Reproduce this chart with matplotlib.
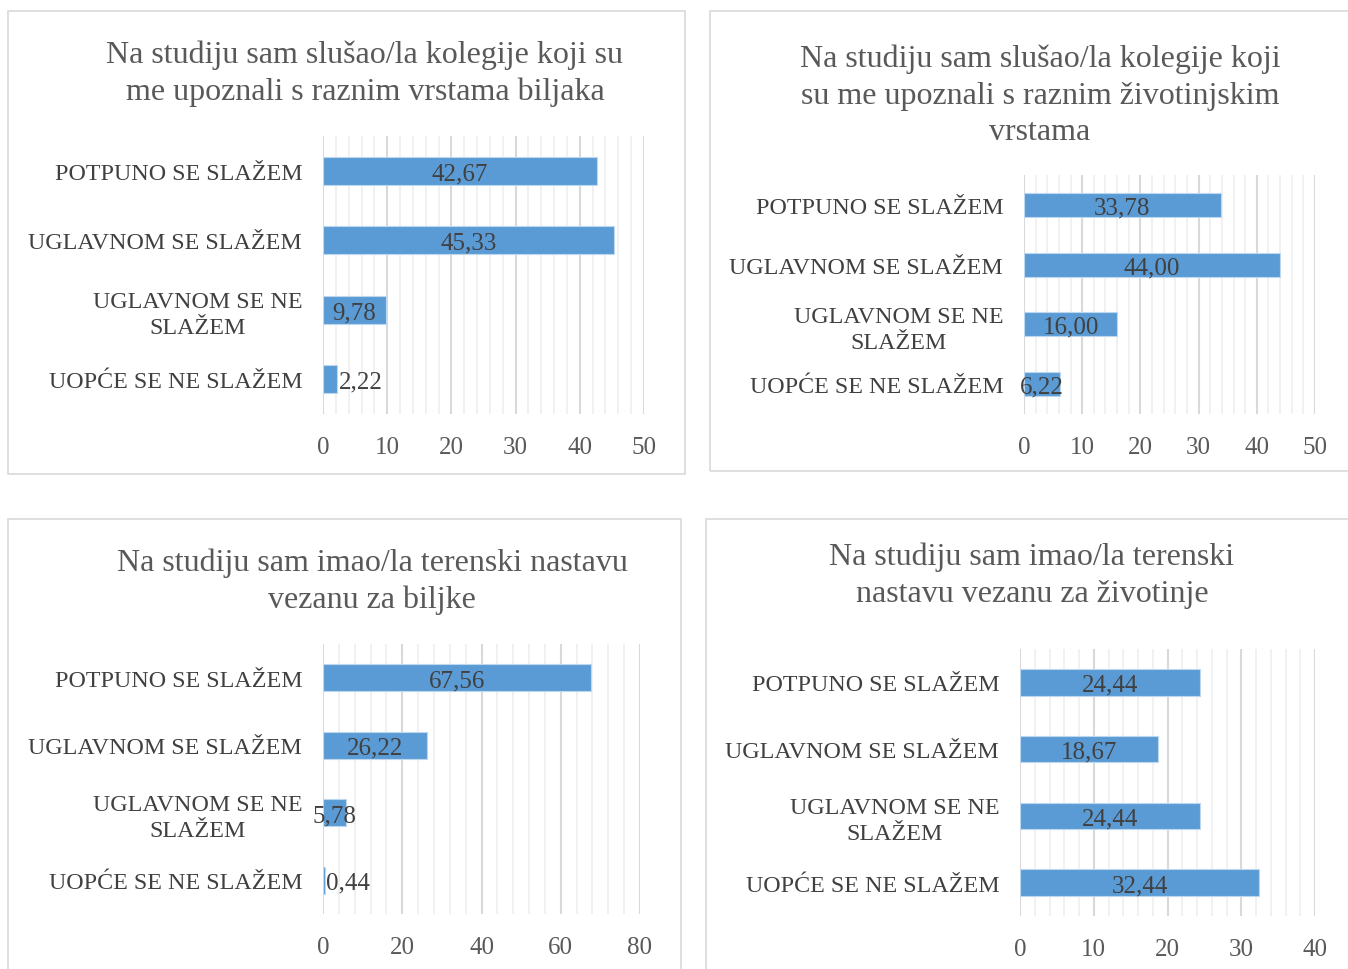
import matplotlib.pyplot as plt
from matplotlib.patches import Rectangle
from matplotlib.ticker import MultipleLocator

kategorije = ["POTPUNO SE SLAŽEM", "UGLAVNOM SE SLAŽEM",
              "UGLAVNOM SE NE\nSLAŽEM", "UOPĆE SE NE SLAŽEM"]

naslov_1 = "Na studiju sam slušao/la kolegije koji su\nme upoznali s raznim vrstama biljaka"
naslov_2 = "Na studiju sam slušao/la kolegije koji\nsu me upoznali s raznim životinjskim\nvrstama"
naslov_3 = "Na studiju sam imao/la terenski nastavu\nvezanu za biljke"
naslov_4 = "Na studiju sam imao/la terenski\nnastavu vezanu za životinje"

vrijednosti_1 = [42.67, 45.33, 9.78, 2.22]
vrijednosti_2 = [33.78, 44.00, 16.00, 6.22]
vrijednosti_3 = [67.56, 26.22, 5.78, 0.44]
vrijednosti_4 = [24.44, 18.67, 24.44, 32.44]

W, H = 1348, 970
plt.rcParams['font.family'] = ['Liberation Serif', 'DejaVu Serif']

fig = plt.figure(figsize=(W / 100, H / 100), dpi=100)


def px(x0, y0, x1, y1):
    # pixel box (top-left origin) -> figure fraction [l, b, w, h]
    return [x0 / W, 1 - y1 / H, (x1 - x0) / W, (y1 - y0) / H]


def okvir(x0, y0, x1, y1):
    l, b, w, h = px(x0, y0, x1, y1)
    fig.add_artist(Rectangle((l, b), w, h, transform=fig.transFigure,
                             fill=False, edgecolor="#D9D9D9", lw=1.2))


def panel(box, vrijednosti, xmax, major, minor, naslov, tx, ty):
    ax = fig.add_axes(px(*box))
    y = list(range(len(kategorije)))
    ax.barh(y, vrijednosti, height=0.4, color="#5B9BD5",
            edgecolor="#BDD7EE", lw=0.8, zorder=3)
    ax.set_ylim(3.5, -0.5)
    ax.set_xlim(0, xmax)
    ax.xaxis.set_major_locator(MultipleLocator(major))
    ax.xaxis.set_minor_locator(MultipleLocator(minor))
    ax.grid(axis="x", which="major", color="#D9D9D9", lw=1.5, zorder=0)
    ax.grid(axis="x", which="minor", color="#F0F0F0", lw=1.3, zorder=0)
    for s in ax.spines.values():
        s.set_visible(False)
    ax.set_yticks(y)
    ax.set_yticklabels(kategorije, fontsize=17.3, color="#404040",
                       linespacing=1.3)
    for t in ax.get_yticklabels():
        t.set_multialignment("center")
    ax.tick_params(axis="y", length=0, pad=15)
    ax.tick_params(axis="x", which="both", length=0, pad=15.5,
                   labelsize=18, labelcolor="#595959")
    for i, v in enumerate(vrijednosti):
        tekst = f"{v:.2f}".replace(".", ",")
        if v < 3:
            ax.text(v + xmax * 0.005, i, tekst, ha="left", va="center_baseline",
                    fontsize=18, color="#404040", zorder=4)
        else:
            ax.text(v / 2, i, tekst, ha="center", va="center_baseline",
                    fontsize=18, color="#404040", zorder=4)
    fig.text(tx / W, 1 - ty / H, naslov, ha="center", va="center",
             fontsize=23, color="#595959", linespacing=1.35)


okvir(8, 12, 685, 475)
okvir(710, 12, 1360, 472)
okvir(8, 520, 681, 985)
okvir(706, 520, 1360, 985)

panel((323, 137, 644, 415), vrijednosti_1, 50, 10, 2, naslov_1, 365, 74)
panel((1024, 176, 1315, 415), vrijednosti_2, 50, 10, 2, naslov_2, 1040, 96)
panel((323, 645, 640, 915), vrijednosti_3, 80, 20, 4, naslov_3, 372, 582)
panel((1020, 650, 1315, 917), vrijednosti_4, 40, 10, 2, naslov_4, 1032, 576)

fig.savefig("out.png", dpi=100)
